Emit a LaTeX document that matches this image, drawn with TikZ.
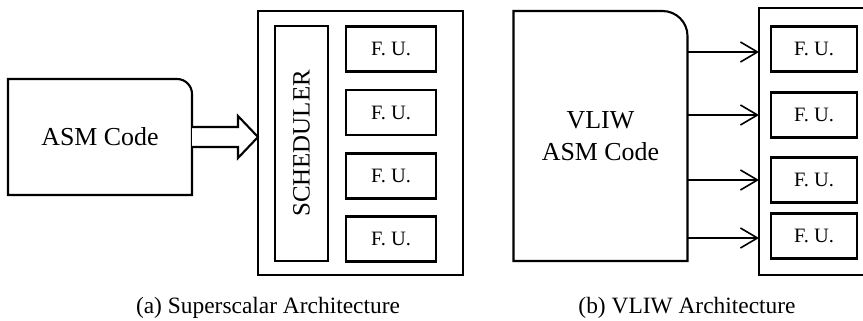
\documentclass[tikz,border=0pt]{standalone}
\usepackage{fontspec}
\setmainfont{Liberation Serif}
\usetikzlibrary{arrows.meta}
\begin{document}
\begin{tikzpicture}[x=1bp,y=1bp,
  lw/.style={line width=2.1bp},
  plain/.style={inner sep=0pt, outer sep=0pt},
  fubox/.style={draw, lw, plain, minimum width=88bp, minimum height=45bp, font=\fontsize{20.5}{24}\selectfont},
  frame/.style={draw, lw, plain},
  big/.style={font=\fontsize{26}{32}\selectfont, align=center},
  captext/.style={font=\fontsize{23.5}{28}\selectfont, plain},
  thin arrow/.style={line width=1.6bp, -{Straight Barb[length=17bp,width=20bp,line width=1.6bp]}}]
\useasboundingbox (0,0) rectangle (863,320);
\clip (0,0) rectangle (863,320);
\fill[white] (0,0) rectangle (863,320);

% ---------- (a) Superscalar ----------
\node[plain, minimum width=184bp, minimum height=116bp, big] (asm) at (100,183) {ASM Code};
\draw[lw] (asm.south west) -- (asm.north west) -- ([xshift=-15bp]asm.north east)
  arc[start angle=90, end angle=0, radius=15bp] -- (asm.south east) -- cycle;

\node[frame, minimum width=205bp, minimum height=264bp] (outerL) at (360.5,177) {};
\node[frame, rotate=90, minimum width=235bp, minimum height=53bp, font=\fontsize{25}{30}\selectfont] (sched) at (301.5,176.5) {SCHEDULER};

\node[fubox, minimum width=90bp] (fa1) at (391,271) {F. U.};
\node[fubox, minimum width=90bp] (fa2) at (391,207.5) {F. U.};
\node[fubox, minimum width=90bp] (fa3) at (391,144) {F. U.};
\node[fubox, minimum width=90bp] (fa4) at (391,81) {F. U.};

% hollow arrow
\coordinate (tipA) at (outerL.west |- asm.east);
\draw[lw, fill=white, line join=miter] (asm.east |- 0,193) -- (238,193) -- (238,204) -- (tipA)
  -- (238,162) -- (238,173) -- (asm.east |- 0,173);

\node[captext] (capa) at (268,12) {(a) Superscalar Architecture};

% ---------- (b) VLIW ----------
\node[plain, minimum width=174bp, minimum height=250bp, big] (vliw) at (600.5,184) {VLIW\\ASM Code};
\draw[lw] (vliw.south west) -- (vliw.north west) -- ([xshift=-25bp]vliw.north east)
  arc[start angle=90, end angle=0, radius=25bp] -- (vliw.south east) -- cycle;

\node[frame, minimum width=160bp, minimum height=267bp] (outerR) at (839,178.5) {};
\draw[line width=2.8bp] (outerR.north west) -- (outerR.south west);

\node[fubox, minimum width=86bp] (fb1) at (814,271) {F. U.};
\node[fubox, minimum width=86bp] (fb2) at (814,205) {F. U.};
\node[fubox, minimum width=86bp] (fb3) at (814,140) {F. U.};
\node[fubox, minimum width=86bp] (fb4) at (814,84) {F. U.};

\draw[thin arrow] (vliw.east |- 0,268) -- (outerR.west |- 0,268);
\draw[thin arrow] (vliw.east |- fb2) -- (outerR.west |- fb2);
\draw[thin arrow] (vliw.east |- fb3) -- (outerR.west |- fb3);
\draw[thin arrow] (vliw.east |- 0,82) -- (outerR.west |- 0,82);

\node[captext] (capb) at (687,12) {(b) VLIW Architecture};
\end{tikzpicture}
\end{document}
